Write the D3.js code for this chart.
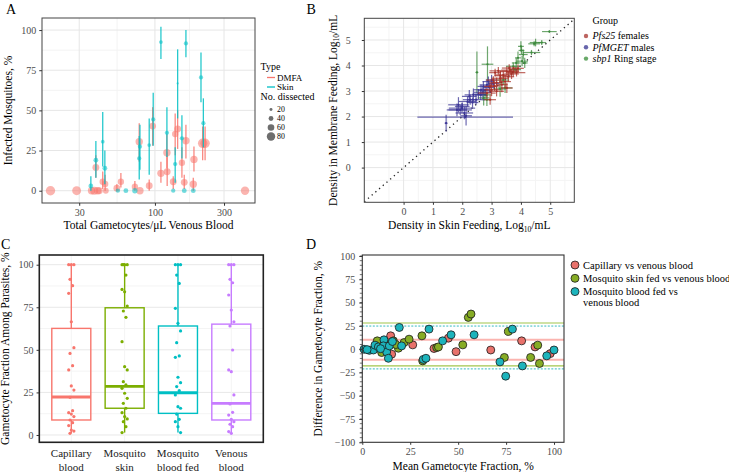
<!DOCTYPE html>
<html><head><meta charset="utf-8">
<script src="https://cdn.jsdelivr.net/npm/d3@7"></script>
<style>body{margin:0;background:#fff} svg text{font-family:"Liberation Serif","DejaVu Serif",serif !important}</style>
</head><body><script>
// ================= DATA =================
// Panel A
const dmfaGam = [19.0,28.8,36.5,38.1,40.2,41.3,39.1,43.6,45.3,45.8,54.6,58.2,72.7,78.8,77.9,91.3,96.4,110,121,121.5,133.8,138,143.5,153.6,159.4,163.7,184,186,213.6,222,419];
const dmfaPct = [0,0,0,0,0,0,14.5,5.6,4.2,0,1.5,5.6,2.5,0,30.5,3.1,40.2,10.8,23.6,11.8,5.6,35.3,38.4,17.4,5.2,31.1,4,19.5,29.5,29.5,0];
const dmfaLo  = [0,0,0,0,0,0,8,1,0,0,0,2,0,0,18,0,28,5,14,3,1,22,26,8,1,20,0,12,19,19,0];
const dmfaHi  = [0,0,0,0,0,0,22,12,10,0,4,11,6,0,42,7,52,18,35,24,9,48,50,27,10,41,8,27.5,40,40,0];
const dmfaN   = [80,75,60,65,60,55,55,50,50,45,55,50,50,60,60,55,55,60,60,55,55,50,55,50,55,60,60,60,80,80,70];
const skinGam = [36.1,39.1,43.6,45.1,55.5,63,72.7,77.9,78.8,91.3,97.3,110,121,133.8,138,143.5,153.6,159.4,163.7,184,208,216];
const skinPct = [3,19,30.5,14,0,0,0,20.1,27.4,28.4,44.4,92.5,36,0,16.6,66.8,32.6,0,91.7,0,70.5,42];
const skinLo  = [0,8,15,4,0,0,0,7,13,10,28,82,21,0,5,45,20,0,83,0,55,27];
const skinHi  = [9,31,49,25,0,0,0,34,41,45,61,102,52,0,27,88,47,0,100,0,86,57.5];
const skinN   = [35,35,25,35,30,35,40,30,30,25,30,25,30,30,30,10,30,35,30,35,30,30];
const xTicksA = [30,100,300];
const yTicksA = [0,25,50,75,100];
const sizeLegend = [20,40,60,80];

// Panel B (log10 densities, with error half-widths)
const pfsX  = [2.95,3.06,3.17,3.29,3.35,3.4,3.52,3.57,3.63,3.68,3.74,3.85,3.9,3.23,3.12,3.0,2.95,2.84,3.46,3.52,3.17,3.3,3.6,3.1];
const pfsY  = [3.18,3.43,3.33,3.5,3.25,3.63,3.76,3.56,3.82,3.67,3.76,3.72,3.89,3.79,3.72,3.05,2.66,2.92,3.37,3.12,2.99,3.6,3.9,3.2];
const pfsXe = [0.2,0.25,0.2,0.3,0.2,0.3,0.25,0.2,0.3,0.25,0.2,0.3,0.2,0.3,0.2,0.25,0.2,0.3,0.2,0.2,0.25,0.2,0.25,0.2];
const pfsYe = [0.2,0.15,0.2,0.2,0.3,0.15,0.2,0.2,0.15,0.2,0.2,0.15,0.15,0.15,0.15,0.25,0.2,0.2,0.25,0.2,0.2,0.2,0.15,0.2];
const mgetX  = [1.45,2.1,1.87,1.93,2.07,2.13,2.18,2.27,2.38,2.55,2.64,2.72,2.84,2.89,2.47,1.82,1.99,2.24,2.63,2.78,3.0,3.06,2.92,2.0,2.35,2.7];
const mgetY  = [1.74,1.98,2.46,2.26,2.14,2.03,2.59,2.66,2.85,2.88,3.05,3.18,3.24,3.37,2.66,2.26,2.33,2.79,2.85,3.03,3.43,3.3,3.14,2.4,2.55,2.95];
const mgetXe = [0.05,1.63,0.35,0.4,0.3,0.2,0.3,0.25,0.3,0.2,0.25,0.2,0.25,0.2,0.3,0.35,0.45,0.25,0.2,0.25,0.2,0.2,0.2,0.25,0.2,0.3];
const mgetYe = [0.33,0.05,0.3,0.2,0.25,0.38,0.2,0.2,0.25,0.2,0.2,0.2,0.15,0.2,0.2,0.25,0.2,0.25,0.2,0.2,0.2,0.15,0.2,0.15,0.2,0.2];
const sbpX  = [2.5,2.86,4.97,4.5,4.71,4.36,4.02,4.08,3.9,4.04,4.13,3.84,3.74,3.8,3.46,3.29,2.73,2.78,2.84,3.4,4.0,4.45];
const sbpY  = [3.73,4.05,5.33,4.9,4.9,4.51,4.59,4.43,4.3,4.17,4.1,4.1,3.97,3.84,3.12,3.08,2.73,2.85,2.66,3.43,4.75,4.85];
const sbpXe = [0.05,0.2,0.25,0.2,0.15,0.3,0.1,0.15,0.1,0.2,0.1,0.15,0.25,0.2,0.25,0.2,0.2,0.2,0.15,0.2,0.1,0.2];
const sbpYe = [0.82,0.7,0.05,0.15,0.1,0.1,0.15,0.2,0.25,0.2,0.2,0.2,0.15,0.15,0.2,0.3,0.3,0.2,0.25,0.2,0.2,0.1];
const ticksB = [0,1,2,3,4,5];

// Panel C
const cCats = ["Capillary blood","Mosquito skin","Mosquito blood fed","Venous blood"];
const cQ1  = [8.8,15.7,12.7,8.8];
const cMed = [22.3,28.6,24.8,18.6];
const cQ3  = [62.6,74.7,64,65.1];
const cMin = [1,1.4,1.4,1];
const cMax = [100,100,100,100];
const cCapillary = [100,100,100,91.4,87.7,83.2,66.5,51.3,47.9,40.7,38.2,28.8,26.4,22.1,14.3,13.1,12.3,10.8,8.8,7.2,5.5,2.9,2.3,1];
const cSkin = [100,100,100,100,93.9,85.5,84.1,75.7,72.8,69.1,54.8,40.1,38.2,31.3,29.4,27.4,24.5,21.5,18.6,15.7,13.1,10.8,9.4,7.8,4.9,1.4];
const cBloodFed = [100,100,100,93.9,89,74.4,65.6,61.1,54.2,46.4,45.6,33.9,30.7,28.4,26,23.5,16.6,15.7,12.3,9.2,7.8,4.9,1.4];
const cVenous = [100,100,100,91.4,89.4,82.2,73.4,66.5,64,49.9,38.2,37.2,23.5,18.2,13.3,11.7,9.2,7.8,6.3,4.9,2,1];
const yTicksC = [0,25,50,75,100];

// Panel D (Bland-Altman)
const capMean = [14.8,15.3,26.3,37.4,44.9,48.9,67,83.1,90.1,98];
const capDiff = [14.3,-5.4,4.6,0.7,11.8,-2.7,-0.9,8.9,2.4,-4.8];
const skinFedMean = [7.8,9.2,10.1,16.2,18.8,21.8,24.4,31.1,31.5,38.8,39.7,52.4,55.3,56.7,74.1,76.2,87.8,91.5,92.4,13,17.5,12];
const skinFedDiff = [8.9,1,-3.6,8.9,1,7.1,10.7,14.3,-12.6,1.7,2.4,4.6,34.1,37.7,-8.9,19,-8.9,4.3,-15.4,5,5,0];
const bloodFedMean = [0.9,3.7,5.8,6.6,8.4,11.3,11,12.7,13.6,14.1,15.7,19.3,20.5,31.8,33.2,34.8,41.9,46.3,58.3,71.8,74.8,78.3,83.5,96.2,100,2.5,9.5];
const bloodFedDiff = [-0.1,-1.3,-0.9,4.3,2.4,10,3.5,-3,-9.8,3.5,8.2,23.3,3.5,-11,-9.8,21.5,8.9,15.4,15.4,-13.7,-29,21.5,-18,-7.2,-0.9,-0.5,0.5];
const capLimits = [10,-11.5];
const skinFedLimits = [28,-18];
const bloodFedLimits = [24.8,-21.2];
const yTicksD = [100,75,50,25,0,-25,-50,-75,-100];
const xTicksD = [0,25,50,75,100];

// ================= DRAW =================
const SERIF = '"Liberation Serif","DejaVu Serif",serif';
const svg = d3.select("body").append("svg").attr("width",729).attr("height",472).attr("font-family",SERIF);
svg.append("rect").attr("width",729).attr("height",472).attr("fill","#fff");
const TICKC = "#4d4d4d";
function txt(g,x,y,s,o={}){
  const t=g.append("text").attr("x",x).attr("y",y).text(s)
    .attr("font-family",SERIF)
    .attr("font-size",o.size||10).attr("fill",o.fill||"#000")
    .attr("text-anchor",o.anchor||"start");
  if(o.rot) t.attr("transform",`rotate(-90,${x},${y})`);
  return t;
}
function styleAxis(a){
  a.attr("font-family",SERIF);
  a.select(".domain").remove();
  a.selectAll("line").attr("stroke","#333");
  a.selectAll("text").attr("font-size",10).attr("fill",TICKC).attr("font-family",SERIF);
}
const fmt = v => v<0 ? "\u2212"+Math.abs(v) : String(v);

// ---------- Panel A ----------
{
const P={l:42,r:255,t:18,b:203};
const g=svg.append("g");
const x=d3.scaleLog().domain([16.6,491]).range([P.l,P.r]);
const y=d3.scaleLinear().domain([-7.65,107.5]).range([P.b,P.t]);
const r=d3.scaleLinear().domain([15,80]).range([1.4,4.7]);
g.append("rect").attr("x",P.l).attr("y",P.t).attr("width",P.r-P.l).attr("height",P.b-P.t).attr("fill","#fff");
const minorX=[Math.sqrt(30*100),Math.sqrt(100*300)];
g.selectAll(".mx").data(minorX).join("line").attr("x1",d=>x(d)).attr("x2",d=>x(d)).attr("y1",P.t).attr("y2",P.b).attr("stroke","#f3f3f3");
g.selectAll(".my").data([12.5,37.5,62.5,87.5]).join("line").attr("y1",d=>y(d)).attr("y2",d=>y(d)).attr("x1",P.l).attr("x2",P.r).attr("stroke","#f3f3f3");
g.selectAll(".gx").data(xTicksA).join("line").attr("x1",d=>x(d)).attr("x2",d=>x(d)).attr("y1",P.t).attr("y2",P.b).attr("stroke","#e6e6e6");
g.selectAll(".gy").data(yTicksA).join("line").attr("y1",d=>y(d)).attr("y2",d=>y(d)).attr("x1",P.l).attr("x2",P.r).attr("stroke","#e6e6e6");
function series(gam,pct,lo,hi,n,col){
  const idx=d3.range(gam.length);
  g.append("g").selectAll("line").data(idx).join("line")
    .attr("x1",i=>x(gam[i])).attr("x2",i=>x(gam[i])).attr("y1",i=>y(lo[i])).attr("y2",i=>y(hi[i]))
    .attr("stroke",col).attr("stroke-width",1.3).attr("stroke-opacity",0.85);
  g.append("g").selectAll("circle").data(idx).join("circle")
    .attr("cx",i=>x(gam[i])).attr("cy",i=>y(pct[i])).attr("r",i=>r(n[i]))
    .attr("fill",col).attr("fill-opacity",0.55);
}
series(dmfaGam,dmfaPct,dmfaLo,dmfaHi,dmfaN,"#F8766D");
series(skinGam,skinPct,skinLo,skinHi,skinN,"#00BFC4");
g.append("rect").attr("x",P.l).attr("y",P.t).attr("width",P.r-P.l).attr("height",P.b-P.t).attr("fill","none").attr("stroke","#444").attr("stroke-width",1);
const ax=g.append("g").attr("transform",`translate(0,${P.b})`).call(d3.axisBottom(x).tickValues(xTicksA).tickFormat(d3.format("d")).tickSize(2.75).tickPadding(3));
const ay=g.append("g").attr("transform",`translate(${P.l},0)`).call(d3.axisLeft(y).tickValues(yTicksA).tickSize(2.75).tickPadding(3));
styleAxis(ax);styleAxis(ay);
txt(g,148.5,229,"Total Gametocytes/\u03bcL Venous Blood",{size:11.5,anchor:"middle"});
txt(g,12,110.5,"Infected Mosquitoes, %",{size:11.5,anchor:"middle",rot:true});
txt(g,6,14,"A",{size:14});
// legend
txt(g,260.5,70,"Type",{size:10});
[["DMFA","#F8766D",77.5],["Skin","#00BFC4",87]].forEach(([lab,c,yy])=>{
  g.append("line").attr("x1",267).attr("x2",275).attr("y1",yy).attr("y2",yy).attr("stroke",c).attr("stroke-width",1.3);
  txt(g,277,yy+3,lab,{size:9});
});
txt(g,260.5,100,"No. dissected",{size:10});
sizeLegend.forEach((v,i)=>{
  const yy=109.5+i*9;
  g.append("circle").attr("cx",271).attr("cy",yy).attr("r",r(v)*0.9).attr("fill","#555").attr("fill-opacity",0.85);
  txt(g,277,yy+2.8,String(v),{size:7.8});
});
}

// ---------- Panel B ----------
{
const P={l:364.3,r:574.3,t:18.3,b:202.3};
const g=svg.append("g");
const x=d3.scaleLinear().domain([-1.34,5.82]).range([P.l,P.r]);
const y=d3.scaleLinear().domain([-1.36,5.85]).range([P.b,P.t]);
g.append("rect").attr("x",P.l).attr("y",P.t).attr("width",P.r-P.l).attr("height",P.b-P.t).attr("fill","#fff");
const minor=[-0.5,0.5,1.5,2.5,3.5,4.5,5.5];
g.selectAll(".mx").data(minor).join("line").attr("x1",d=>x(d)).attr("x2",d=>x(d)).attr("y1",P.t).attr("y2",P.b).attr("stroke","#f4f4f4");
g.selectAll(".my").data(minor).join("line").attr("y1",d=>y(d)).attr("y2",d=>y(d)).attr("x1",P.l).attr("x2",P.r).attr("stroke","#f4f4f4");
g.selectAll(".gx").data(ticksB).join("line").attr("x1",d=>x(d)).attr("x2",d=>x(d)).attr("y1",P.t).attr("y2",P.b).attr("stroke","#e6e6e6");
g.selectAll(".gy").data(ticksB).join("line").attr("y1",d=>y(d)).attr("y2",d=>y(d)).attr("x1",P.l).attr("x2",P.r).attr("stroke","#e6e6e6");
g.append("line").attr("x1",x(-1.34)).attr("y1",y(-1.34)).attr("x2",x(5.82)).attr("y2",y(5.82))
  .attr("stroke","#222").attr("stroke-width",1.3).attr("stroke-dasharray","1.3,3.6");
function grp(X,Y,Xe,Ye,col){
  const idx=d3.range(X.length); const gg=g.append("g");
  gg.selectAll(".h").data(idx).join("line").attr("x1",i=>x(X[i]-Xe[i])).attr("x2",i=>x(X[i]+Xe[i])).attr("y1",i=>y(Y[i])).attr("y2",i=>y(Y[i])).attr("stroke",col).attr("stroke-width",1.2).attr("stroke-opacity",0.75);
  gg.selectAll(".v").data(idx).join("line").attr("x1",i=>x(X[i])).attr("x2",i=>x(X[i])).attr("y1",i=>y(Y[i]-Ye[i])).attr("y2",i=>y(Y[i]+Ye[i])).attr("stroke",col).attr("stroke-width",1.2).attr("stroke-opacity",0.75);
  gg.selectAll("circle").data(idx).join("circle").attr("cx",i=>x(X[i])).attr("cy",i=>y(Y[i])).attr("r",1.1).attr("fill",col);
}
grp(sbpX,sbpY,sbpXe,sbpYe,"#3d8a3d");
grp(mgetX,mgetY,mgetXe,mgetYe,"#3b3596");
grp(pfsX,pfsY,pfsXe,pfsYe,"#a83228");
g.append("rect").attr("x",P.l).attr("y",P.t).attr("width",P.r-P.l).attr("height",P.b-P.t).attr("fill","none").attr("stroke","#444").attr("stroke-width",1);
const ax=g.append("g").attr("transform",`translate(0,${P.b})`).call(d3.axisBottom(x).tickValues(ticksB).tickSize(2.5).tickPadding(3));
const ay=g.append("g").attr("transform",`translate(${P.l},0)`).call(d3.axisLeft(y).tickValues(ticksB).tickSize(2.5).tickPadding(11));
styleAxis(ax);styleAxis(ay);
const xl=txt(g,469.3,229,"Density in Skin Feeding, Log",{size:11.5,anchor:"middle"});
xl.append("tspan").attr("font-size",7.5).attr("dy",2.5).text("10");
xl.append("tspan").attr("dy",-2.5).text("/mL");
const yl=txt(g,337,110.3,"Density in Membrane Feeding, Log",{size:11.5,anchor:"middle",rot:true});
yl.append("tspan").attr("font-size",7.5).attr("dy",2.5).text("10");
yl.append("tspan").attr("dy",-2.5).text("/mL");
txt(g,306.5,14,"B",{size:14});
// legend
txt(g,592.5,24,"Group",{size:10});
const items=[["Pfs25"," females","#b24a45"],["PfMGET"," males","#4e4b9e"],["sbp1"," Ring stage","#4f9a4f"]];
items.forEach(([it,rest,c],i)=>{
  const yy=36+i*11.3;
  g.append("circle").attr("cx",586).attr("cy",yy).attr("r",2.2).attr("fill",c).attr("fill-opacity",0.85);
  const t=txt(g,592.5,yy+3.4,"",{size:10});
  t.append("tspan").attr("font-style","italic").text(it);
  t.append("tspan").text(rest);
});
}

// ---------- Panel C ----------
{
const P={l:39.3,r:263.3,t:255,b:442.3};
const g=svg.append("g");
const x=d3.scalePoint().domain(cCats).range([P.l,P.r]).padding(0.6);
const y=d3.scaleLinear().domain([-4.3,105.7]).range([P.b,P.t]);
const cols=["#F8766D","#7CAE00","#00BFC4","#C77CFF"];
g.append("rect").attr("x",P.l).attr("y",P.t).attr("width",P.r-P.l).attr("height",P.b-P.t).attr("fill","#fff");
g.selectAll(".my").data([12.5,37.5,62.5,87.5]).join("line").attr("y1",d=>y(d)).attr("y2",d=>y(d)).attr("x1",P.l).attr("x2",P.r).attr("stroke","#f4f4f4");
g.selectAll(".gy").data(yTicksC).join("line").attr("y1",d=>y(d)).attr("y2",d=>y(d)).attr("x1",P.l).attr("x2",P.r).attr("stroke","#e8e8e8");
g.selectAll(".gx").data(cCats).join("line").attr("x1",d=>x(d)).attr("x2",d=>x(d)).attr("y1",P.t).attr("y2",P.b).attr("stroke","#f4f4f4");
const bw=39;
const dots=[cCapillary,cSkin,cBloodFed,cVenous];
cCats.forEach((c,i)=>{
  const cx=x(c), col=cols[i];
  g.append("line").attr("x1",cx).attr("x2",cx).attr("y1",y(cQ3[i])).attr("y2",y(cMax[i])).attr("stroke",col).attr("stroke-width",1.4);
  g.append("line").attr("x1",cx).attr("x2",cx).attr("y1",y(cQ1[i])).attr("y2",y(cMin[i])).attr("stroke",col).attr("stroke-width",1.4);
  g.append("rect").attr("x",cx-bw/2).attr("y",y(cQ3[i])).attr("width",bw).attr("height",y(cQ1[i])-y(cQ3[i])).attr("fill","none").attr("stroke",col).attr("stroke-width",1.4);
  g.append("line").attr("x1",cx-bw/2).attr("x2",cx+bw/2).attr("y1",y(cMed[i])).attr("y2",y(cMed[i])).attr("stroke",col).attr("stroke-width",2.8);
  g.append("g").selectAll("circle").data(dots[i]).join("circle")
    .attr("cx",(d,j)=>cx+((j*7)%5-2)*1.3).attr("cy",d=>y(d)).attr("r",1.6).attr("fill",col);
});
g.append("rect").attr("x",P.l).attr("y",P.t).attr("width",P.r-P.l).attr("height",P.b-P.t).attr("fill","none").attr("stroke","#222").attr("stroke-width",1.6);
const ay=g.append("g").attr("transform",`translate(${P.l},0)`).call(d3.axisLeft(y).tickValues(yTicksC).tickSize(2.75).tickPadding(3));
styleAxis(ay);
cCats.forEach(c=>{
  const w=c.split(" "); const l1=w.length>2? w.slice(0,1).join(" "):w[0]; const l2=w.length>2? w.slice(1).join(" "):w[1];
  txt(g,x(c),457,l1,{size:11,anchor:"middle",fill:"#222"});
  txt(g,x(c),470.5,l2,{size:11,anchor:"middle",fill:"#222"});
});
txt(g,9.5,(P.t+P.b)/2,"Gametocyte Fraction Among Parasites, %",{size:11.5,anchor:"middle",rot:true});
txt(g,1,248.5,"C",{size:14});
}

// ---------- Panel D ----------
{
const P={l:362.3,r:564,t:255,b:442.3};
const g=svg.append("g");
const x=d3.scaleLinear().domain([0,105.2]).range([P.l,P.r]);
const y=d3.scaleLinear().domain([-100,100]).range([P.b,P.t+1]);
g.append("rect").attr("x",P.l).attr("y",P.t).attr("width",P.r-P.l).attr("height",P.b-P.t).attr("fill","#fff");
g.selectAll(".lc").data(capLimits).join("line").attr("x1",P.l).attr("x2",P.r).attr("y1",d=>y(d)).attr("y2",d=>y(d)).attr("stroke","#F8766D").attr("stroke-opacity",0.55).attr("stroke-width",2);
g.selectAll(".ls").data(skinFedLimits).join("line").attr("x1",P.l).attr("x2",P.r).attr("y1",d=>y(d)).attr("y2",d=>y(d)).attr("stroke","#7CAE00").attr("stroke-opacity",0.7).attr("stroke-width",1.1);
g.selectAll(".lb").data(bloodFedLimits).join("line").attr("x1",P.l).attr("x2",P.r).attr("y1",d=>y(d)).attr("y2",d=>y(d)).attr("stroke","#00A8B0").attr("stroke-width",0.8).attr("stroke-dasharray","2,1.5");
function pts(X,Y,col){
  g.append("g").selectAll("circle").data(d3.range(X.length)).join("circle")
    .attr("cx",i=>x(X[i])).attr("cy",i=>y(Y[i])).attr("r",4).attr("fill",col).attr("stroke","#1a1a1a").attr("stroke-width",0.8);
}
pts(capMean,capDiff,"#E8716B");
pts(skinFedMean,skinFedDiff,"#86AC25");
pts(bloodFedMean,bloodFedDiff,"#1DB4BC");
g.append("rect").attr("x",P.l).attr("y",P.t).attr("width",P.r-P.l).attr("height",P.b-P.t).attr("fill","none").attr("stroke","#333").attr("stroke-width",1.1);
const ax=g.append("g").attr("transform",`translate(0,${P.b})`).call(d3.axisBottom(x).tickValues(xTicksD).tickSize(2.5).tickPadding(3));
const ay=g.append("g").attr("transform",`translate(${P.l},0)`).call(d3.axisLeft(y).tickValues(yTicksD).tickFormat(fmt).tickSize(3).tickPadding(4));
styleAxis(ax);styleAxis(ay);
const minorT=d3.range(-100,101,5);
g.selectAll(".mt").data(minorT).join("line").attr("x1",P.l-2.5).attr("x2",P.l).attr("y1",d=>y(d)).attr("y2",d=>y(d)).attr("stroke","#333").attr("stroke-width",0.7);
txt(g,(P.l+P.r)/2,470,"Mean Gametocyte Fraction, %",{size:11.5,anchor:"middle"});
txt(g,322,(P.t+P.b)/2,"Difference in Gametocyte Fraction, %",{size:11.5,anchor:"middle",rot:true});
txt(g,306,248.5,"D",{size:14});
// legend
const leg=[["Capillary vs venous blood","#E8716B"],["Mosquito skin fed vs venous blood","#86AC25"],["Mosquito blood fed vs","#1DB4BC"]];
leg.forEach(([lab,c],i)=>{
  const yy=265+i*13.3;
  g.append("circle").attr("cx",575).attr("cy",yy).attr("r",4).attr("fill",c).attr("stroke","#1a1a1a").attr("stroke-width",0.8);
  txt(g,583,yy+3.5,lab,{size:10.5});
});
txt(g,583,265+3*12.5+3.5,"venous blood",{size:10.5});
}
</script></body></html>
